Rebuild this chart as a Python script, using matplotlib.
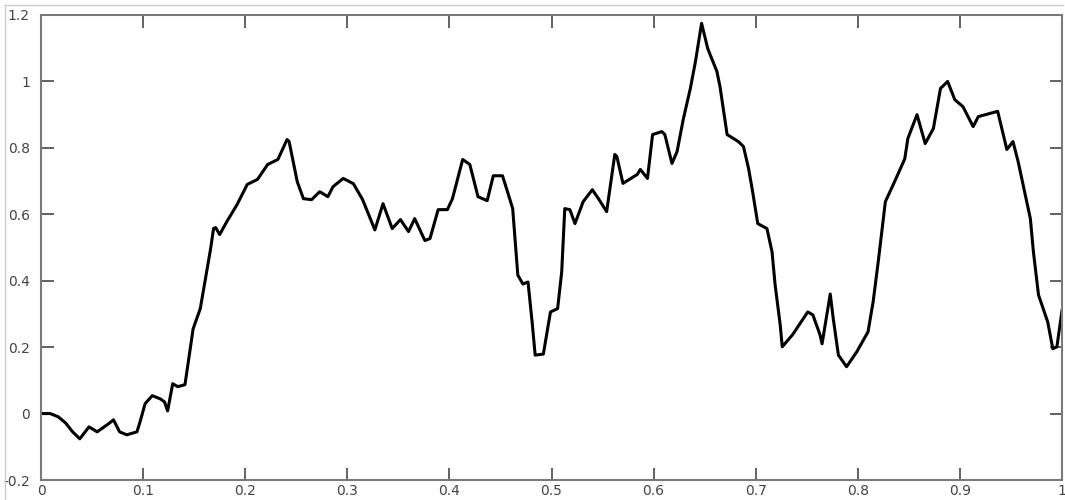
import numpy as np
import matplotlib.pyplot as plt
from matplotlib.lines import Line2D

# curve
x_vals = [0.000, 0.009, 0.017, 0.024, 0.031, 0.038, 0.047, 0.055, 0.066, 0.071,
          0.077, 0.084, 0.094, 0.097, 0.102, 0.109, 0.117, 0.121, 0.124, 0.129,
          0.134, 0.141, 0.149, 0.156, 0.166, 0.169, 0.171, 0.175, 0.182, 0.192,
          0.202, 0.212, 0.222, 0.232, 0.241, 0.243, 0.251, 0.257, 0.265, 0.273,
          0.281, 0.286, 0.296, 0.306, 0.315, 0.327, 0.335, 0.344, 0.352, 0.360,
          0.366, 0.376, 0.381, 0.389, 0.398, 0.403, 0.413, 0.420, 0.428, 0.437,
          0.443, 0.452, 0.456, 0.462, 0.467, 0.472, 0.477, 0.481, 0.484, 0.492,
          0.499, 0.506, 0.510, 0.513, 0.518, 0.523, 0.531, 0.540, 0.546, 0.554,
          0.562, 0.564, 0.570, 0.584, 0.587, 0.594, 0.599, 0.608, 0.611, 0.618,
          0.623, 0.629, 0.636, 0.641, 0.647, 0.653, 0.662, 0.665, 0.672, 0.683,
          0.688, 0.693, 0.697, 0.702, 0.711, 0.716, 0.719, 0.724, 0.726, 0.736,
          0.751, 0.756, 0.763, 0.765, 0.768, 0.773, 0.776, 0.781, 0.789, 0.799,
          0.810, 0.815, 0.820, 0.827, 0.836, 0.846, 0.849, 0.858, 0.866, 0.874,
          0.881, 0.888, 0.895, 0.903, 0.913, 0.918, 0.937, 0.946, 0.952, 0.957,
          0.964, 0.969, 0.972, 0.977, 0.986, 0.991, 0.995, 1.000]
y_vals = [0.000, 0.000, -0.010, -0.028, -0.055, -0.076, -0.040, -0.055, -0.031, -0.019,
          -0.055, -0.064, -0.055, -0.025, 0.030, 0.054, 0.044, 0.035, 0.008, 0.090,
          0.081, 0.087, 0.255, 0.316, 0.494, 0.557, 0.560, 0.539, 0.578, 0.629,
          0.690, 0.705, 0.750, 0.765, 0.825, 0.819, 0.698, 0.647, 0.644, 0.668,
          0.653, 0.683, 0.708, 0.692, 0.644, 0.553, 0.632, 0.557, 0.584, 0.548,
          0.587, 0.521, 0.527, 0.614, 0.614, 0.647, 0.765, 0.750, 0.653, 0.641,
          0.716, 0.716, 0.677, 0.617, 0.417, 0.390, 0.396, 0.276, 0.176, 0.179,
          0.306, 0.316, 0.427, 0.617, 0.614, 0.572, 0.638, 0.674, 0.647, 0.608,
          0.780, 0.774, 0.693, 0.720, 0.735, 0.708, 0.840, 0.849, 0.840, 0.753,
          0.789, 0.885, 0.979, 1.060, 1.175, 1.099, 1.030, 0.985, 0.840, 0.819,
          0.804, 0.738, 0.668, 0.572, 0.557, 0.487, 0.388, 0.267, 0.201, 0.237,
          0.306, 0.297, 0.237, 0.210, 0.267, 0.360, 0.285, 0.176, 0.141, 0.186,
          0.246, 0.336, 0.457, 0.638, 0.698, 0.767, 0.828, 0.900, 0.813, 0.858,
          0.979, 1.000, 0.945, 0.924, 0.864, 0.894, 0.910, 0.795, 0.819, 0.759,
          0.659, 0.587, 0.487, 0.357, 0.276, 0.195, 0.201, 0.310]

x_ticks = [0, 0.1, 0.2, 0.3, 0.4, 0.5, 0.6, 0.7, 0.8, 0.9, 1]
x_labels = ['0', '0.1', '0.2', '0.3', '0.4', '0.5', '0.6', '0.7', '0.8', '0.9', '1']
y_ticks = [-0.2, 0, 0.2, 0.4, 0.6, 0.8, 1, 1.2]
y_labels = ['-0.2', '0', '0.2', '0.4', '0.6', '0.8', '1', '1.2']

fig = plt.figure(figsize=(10.65, 5), dpi=100)
ax = fig.add_axes([41/1065, 20/500, 1021/1065, 465/500])

ax.plot(x_vals, y_vals, color='black', linewidth=2.2)

ax.set_xlim(0, 1)
ax.set_ylim(-0.2, 1.2)
ax.set_xticks(x_ticks)
ax.set_xticklabels(x_labels)
ax.set_yticks(y_ticks)
ax.set_yticklabels(y_labels)

for s in ax.spines.values():
    s.set_color('#7a7a7a')
    s.set_linewidth(1.5)
ax.tick_params(direction='in', length=9, width=1.3, color='#555555',
               top=True, right=True, labelsize=10, labelcolor='#444444', pad=3)
ax.tick_params(axis='y', pad=8)

# light frame round the figure
fig.add_artist(Line2D([5/1065, 5/1065], [0, 1 - 5/500], color='#cccccc', lw=1))
fig.add_artist(Line2D([5/1065, 1063/1065], [1 - 5/500, 1 - 5/500], color='#cccccc', lw=1))

fig.savefig('out.png', dpi=100)
